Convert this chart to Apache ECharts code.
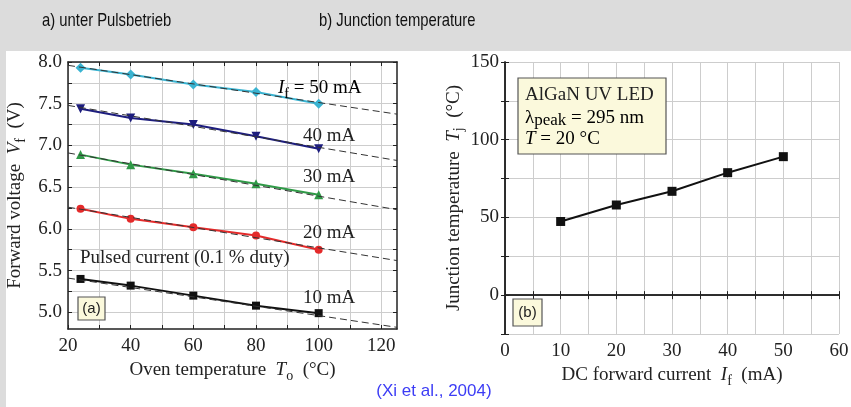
<!DOCTYPE html>
<html><head><meta charset="utf-8">
<script src="https://cdn.jsdelivr.net/npm/echarts@6/dist/echarts.min.js"></script>
<style>html,body{margin:0;padding:0;background:#dcdcdc;} #c{width:851px;height:407px;}</style>
</head><body><div id="c"></div>
<script>
// ---- Data (a): forward voltage vs oven temperature, pulsed current ----
const tempX = [24, 40, 60, 80, 100];
const vf50 = [7.93, 7.85, 7.73, 7.64, 7.50];
const vf40 = [7.44, 7.33, 7.25, 7.11, 6.96];
const vf30 = [6.89, 6.77, 6.66, 6.54, 6.41];
const vf20 = [6.24, 6.12, 6.02, 5.92, 5.75];
const vf10 = [5.40, 5.32, 5.20, 5.08, 4.99];
// linear fit lines (endpoints at 20 and 125 °C)
const fitX = [20, 125];
const fit50 = [7.96, 7.375];
const fit40 = [7.48, 6.82];
const fit30 = [6.91, 6.23];
const fit20 = [6.26, 5.62];
const fit10 = [5.41, 4.82];
// ---- Data (b): junction temperature vs DC forward current ----
const currentX = [10, 20, 30, 40, 50];
const tjValues = [47.4, 58.0, 66.8, 78.8, 89.1];
// ---- Tick labels ----
const xTicksA = [20, 40, 60, 80, 100, 120];
const xMinorA = [20, 30, 40, 50, 60, 70, 80, 90, 100, 110, 120];
const yTicksA = [5.0, 5.5, 6.0, 6.5, 7.0, 7.5, 8.0];
const yMinorA = [5.0, 5.25, 5.5, 5.75, 6.0, 6.25, 6.5, 6.75, 7.0, 7.25, 7.5, 7.75, 8.0];
const xTicksB = [0, 10, 20, 30, 40, 50, 60];
const xMinorB = [0, 5, 10, 15, 20, 25, 30, 35, 40, 45, 50, 55, 60];
const yTicksB = [0, 50, 100, 150];
const yMinorB = [-25, 0, 25, 50, 75, 100, 125, 150];

const SERIF = '"Liberation Serif","Times New Roman",serif';
const SANS = '"Liberation Sans",Arial,sans-serif';
const AX = '#222';
const GRIDC = '#cdcdcd';
const BOXFILL = '#fbf9dc';

const pairs = (xs, ys) => xs.map((x, i) => [x, ys[i]]);
const subRich = {
  it: {fontFamily: SERIF, fontSize: 19, fontStyle: 'italic', color: '#222'},
  sub: {fontFamily: SERIF, fontSize: 14, color: '#222', padding: [12, 0, 0, 0]},
  n: {fontFamily: SERIF, fontSize: 19, color: '#222'}
};
const axLine = {show: true, lineStyle: {color: AX, width: 1.5}};
const lbl = {color: '#222', fontFamily: SERIF, fontSize: 19};

function mirrorX(gi, min, max, ticks) {
  return {gridIndex: gi, type: 'value', position: 'top', min, max,
    axisLine: axLine, axisTick: {show: true, inside: true, length: 4, customValues: ticks, lineStyle: {color: AX}},
    axisLabel: {show: false}, splitLine: {show: false}};
}
function mirrorY(gi, min, max, ticks) {
  return {gridIndex: gi, type: 'value', position: 'right', min, max,
    axisLine: axLine, axisTick: {show: true, inside: true, length: 4, customValues: ticks, lineStyle: {color: AX}},
    axisLabel: {show: false}, splitLine: {show: false}};
}

const chart = echarts.init(document.getElementById('c'), null, {renderer: 'canvas'});

function lineSeries(data, color, symbol, size, rotate) {
  return {type: 'line', xAxisIndex: 0, yAxisIndex: 0, data, symbol, symbolSize: size,
    symbolRotate: rotate || 0, lineStyle: {color, width: 2}, itemStyle: {color},
    z: 3, animation: false};
}
function fitSeries(ys) {
  return {type: 'line', xAxisIndex: 0, yAxisIndex: 0, data: pairs(fitX, ys), symbol: 'none',
    lineStyle: {color: '#333', width: 1, type: [7, 4]}, z: 4, animation: false, silent: true};
}
function txt(x, y, text, extra) {
  return Object.assign({type: 'text', x, y, z: 11,
    style: {text, fontFamily: SERIF, fontSize: 19, fill: '#222', textVerticalAlign: 'middle', verticalAlign: 'middle'}}, extra || {});
}

const option = {
  backgroundColor: '#dcdcdc',
  animation: false,
  grid: [
    {left: 68, top: 62, width: 329, height: 267, containLabel: false, outerBoundsMode: 'none'},
    {left: 505, top: 62, width: 334, height: 272, containLabel: false, outerBoundsMode: 'none'}
  ],
  xAxis: [
    {gridIndex: 0, type: 'value', position: 'bottom', min: 20, max: 125, interval: 20,
      axisLine: axLine,
      axisTick: {show: true, inside: true, length: 4, customValues: xMinorA, lineStyle: {color: AX}},
      axisLabel: Object.assign({customValues: xTicksA, margin: 8}, lbl),
      splitLine: {show: true, lineStyle: {color: GRIDC, width: 1}},
      name: '{n|Oven temperature  }{it|T}{sub|o}{n|  (°C)}', nameLocation: 'middle', nameGap: 25,
      nameTextStyle: {rich: subRich}},
    mirrorX(0, 20, 125, xMinorA),
    {gridIndex: 1, type: 'value', position: 'bottom', min: 0, max: 60, interval: 10,
      axisLine: axLine,
      axisTick: {show: true, inside: true, length: 4, customValues: xMinorB, lineStyle: {color: AX}},
      axisLabel: Object.assign({customValues: xTicksB, margin: 8}, lbl),
      splitLine: {show: true, lineStyle: {color: GRIDC, width: 1}},
      name: '{n|DC forward current  }{it|I}{sub|f}{n|  (mA)}', nameLocation: 'middle', nameGap: 25,
      nameTextStyle: {rich: subRich}},
    mirrorX(1, 0, 60, xMinorB)
  ],
  yAxis: [
    {gridIndex: 0, type: 'value', position: 'left', min: 4.8, max: 8.0, splitNumber: 6,
      axisLine: axLine,
      axisTick: {show: true, inside: true, length: 4, customValues: yMinorA, lineStyle: {color: AX}},
      axisLabel: Object.assign({customValues: yTicksA, margin: 6, formatter: v => v.toFixed(1)}, lbl),
      splitLine: {show: true, lineStyle: {color: GRIDC, width: 1}},
      name: '{n|Forward voltage  }{it|V}{sub|f}{n|  (V)}', nameLocation: 'middle', nameGap: 40, nameRotate: 90,
      nameTextStyle: {rich: subRich}},
    mirrorY(0, 4.8, 8.0, yMinorA),
    {gridIndex: 1, type: 'value', position: 'left', min: -25, max: 150, interval: 25,
      axisLine: axLine,
      axisTick: {show: true, inside: true, length: 4, customValues: yMinorB, lineStyle: {color: AX}},
      axisLabel: Object.assign({customValues: yTicksB, margin: 6}, lbl),
      splitLine: {show: true, lineStyle: {color: GRIDC, width: 1}},
      name: '{n|Junction temperature  }{it|T}{sub|j}{n|  (°C)}', nameLocation: 'middle', nameGap: 38, nameRotate: 90,
      nameTextStyle: {rich: subRich}},
    mirrorY(1, -25, 150, yMinorB)
  ],
  series: [
    lineSeries(pairs(tempX, vf50), '#3ab4d2', 'diamond', 10),
    lineSeries(pairs(tempX, vf40), '#1d1d7e', 'triangle', 9, 180),
    lineSeries(pairs(tempX, vf30), '#2f9a47', 'triangle', 9),
    lineSeries(pairs(tempX, vf20), '#e42a2a', 'circle', 8),
    lineSeries(pairs(tempX, vf10), '#111111', 'rect', 8),
    fitSeries(fit50), fitSeries(fit40), fitSeries(fit30), fitSeries(fit20), fitSeries(fit10),
    {type: 'line', xAxisIndex: 2, yAxisIndex: 2, data: pairs(currentX, tjValues), symbol: 'rect', symbolSize: 9,
      lineStyle: {color: '#111', width: 2}, itemStyle: {color: '#111'}, z: 3}
  ],
  graphic: [
    // white panel
    {type: 'rect', z: -10, shape: {x: 6, y: 51, width: 845, height: 356}, style: {fill: '#ffffff'}},
    // titles
    {type: 'text', x: 42, y: 21, scaleX: 0.78, z: 10,
      style: {text: 'a) unter Pulsbetrieb', fontFamily: SANS, fontSize: 19, fill: '#111', textVerticalAlign: 'middle', verticalAlign: 'middle'}},
    {type: 'text', x: 319, y: 21, scaleX: 0.78, z: 10,
      style: {text: 'b) Junction temperature', fontFamily: SANS, fontSize: 19, fill: '#111', textVerticalAlign: 'middle', verticalAlign: 'middle'}},
    // citation
    {type: 'text', x: 434, y: 391, z: 10,
      style: {text: '(Xi et al., 2004)', fontFamily: SANS, fontSize: 17, fill: '#3c3cf5', textAlign: 'center', align: 'center', textVerticalAlign: 'middle', verticalAlign: 'middle'}},
    // annotations (a)
    {type: 'text', x: 278, y: 88, z: 10,
      style: {text: '{it|I}{sub|f}{n| = 50 mA}', rich: subRich, textVerticalAlign: 'middle', verticalAlign: 'middle'}},
    txt(303, 136, '40 mA'),
    txt(303, 177, '30 mA'),
    txt(303, 233, '20 mA'),
    txt(303, 298, '10 mA'),
    txt(80, 258, 'Pulsed current (0.1 % duty)'),
    {type: 'rect', z: 10, shape: {x: 78, y: 297, width: 27, height: 23}, style: {fill: BOXFILL, stroke: '#555', lineWidth: 1.2}},
    {type: 'text', x: 91.5, y: 308.5, z: 11, style: {text: '(a)', fontFamily: SANS, fontSize: 15, fill: '#222', textAlign: 'center', align: 'center', textVerticalAlign: 'middle', verticalAlign: 'middle'}},
    // annotations (b)
    {type: 'rect', z: 10, shape: {x: 518, y: 78, width: 148, height: 76}, style: {fill: BOXFILL, stroke: '#555', lineWidth: 1.2}},
    txt(525, 95, 'AlGaN UV LED'),
    {type: 'text', x: 525, y: 118, z: 11, style: {text: '{n|λ}{sub|peak}{n| = 295 nm}', rich: {n: subRich.n, sub: {fontFamily: SERIF, fontSize: 17, color: '#222', padding: [6, 0, 0, 0]}}, textVerticalAlign: 'middle', verticalAlign: 'middle'}},
    {type: 'text', x: 525, y: 139, z: 11, style: {text: '{it|T}{n| = 20 °C}', rich: subRich, textVerticalAlign: 'middle', verticalAlign: 'middle'}},
    {type: 'rect', z: 10, shape: {x: 513, y: 299, width: 29, height: 27}, style: {fill: BOXFILL, stroke: '#555', lineWidth: 1.2}},
    {type: 'text', x: 527.5, y: 312.5, z: 11, style: {text: '(b)', fontFamily: SANS, fontSize: 15, fill: '#222', textAlign: 'center', align: 'center', textVerticalAlign: 'middle', verticalAlign: 'middle'}}
  ]
};
chart.setOption(option);
</script>
</body></html>
